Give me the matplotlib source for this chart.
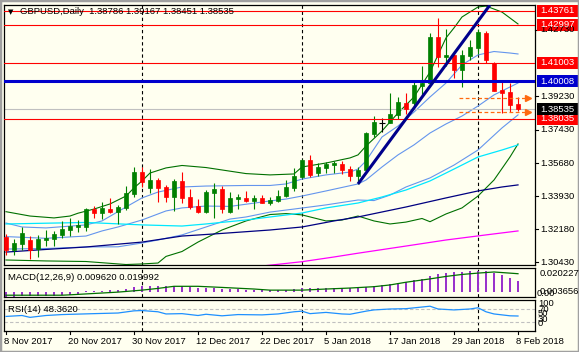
import matplotlib
matplotlib.use('Agg')
import matplotlib.pyplot as plt
from matplotlib.patches import Rectangle
from matplotlib.transforms import blended_transform_factory as blend
import numpy as np

plt.rcParams['font.family'] = ['Liberation Sans', 'DejaVu Sans']

# ---------------- data ----------------
opens = [1.3178, 1.3107, 1.3139, 1.3160, 1.3111, 1.3160, 1.3167, 1.3187, 1.3213, 1.3229,
         1.3231, 1.3324, 1.3305, 1.3326, 1.3308, 1.3331, 1.3402, 1.3520, 1.3437, 1.3478,
         1.3439, 1.3390, 1.3473, 1.3386, 1.3340, 1.3310, 1.3411, 1.3429, 1.3308, 1.3379,
         1.3384, 1.3368, 1.3384, 1.3358, 1.3367, 1.3393, 1.3436, 1.3496, 1.3584, 1.3514,
         1.3543, 1.3559, 1.3561, 1.3535, 1.3501, 1.3531, 1.3720, 1.3782, 1.3782, 1.3823,
         1.3885, 1.3888, 1.3976, 1.3991, 1.4238, 1.4132, 1.4141, 1.4061, 1.4135, 1.4176,
         1.4259, 1.4097, 1.3955, 1.3943, 1.38786]
highs = [1.3190, 1.3164, 1.3231, 1.3183, 1.3187, 1.3213, 1.3208, 1.3261, 1.3277, 1.3266,
         1.3331, 1.3340, 1.3363, 1.3381, 1.3346, 1.3446, 1.3549, 1.3549, 1.3536, 1.3488,
         1.3452, 1.3483, 1.3522, 1.3429, 1.3376, 1.3425, 1.3461, 1.3446, 1.3413, 1.3404,
         1.3420, 1.3399, 1.3397, 1.3386, 1.3425, 1.3478, 1.3540, 1.3589, 1.3609, 1.3567,
         1.3575, 1.3579, 1.3579, 1.3554, 1.3549, 1.3733, 1.3817, 1.3805, 1.3938, 1.3920,
         1.3938, 1.4008, 1.4082, 1.4259, 1.4338, 1.4277, 1.4158, 1.4167, 1.4220, 1.4277,
         1.4269, 1.4103, 1.3999, 1.3991, 1.39167]
lows = [1.3080, 1.3080, 1.3107, 1.3059, 1.3068, 1.3128, 1.3128, 1.3169, 1.3181, 1.3204,
        1.3209, 1.3277, 1.3271, 1.3302, 1.3245, 1.3319, 1.3390, 1.3443, 1.3411, 1.3363,
        1.3363, 1.3315, 1.3355, 1.3324, 1.3302, 1.3305, 1.3278, 1.3302, 1.3302, 1.3323,
        1.3362, 1.3326, 1.3355, 1.3344, 1.3361, 1.3386, 1.3421, 1.3490, 1.3492, 1.3499,
        1.3514, 1.3514, 1.3508, 1.3474, 1.3457, 1.3528, 1.3708, 1.3734, 1.3779, 1.3801,
        1.3828, 1.3870, 1.3920, 1.3982, 1.4079, 1.4082, 1.4017, 1.3973, 1.4114, 1.4146,
        1.4100, 1.3950, 1.3832, 1.3840, 1.38451]
closes = [1.3107, 1.3146, 1.3199, 1.3107, 1.3167, 1.3172, 1.3192, 1.3220, 1.3236, 1.3241,
          1.3323, 1.3305, 1.3330, 1.3310, 1.3335, 1.3408, 1.3519, 1.3466, 1.3478, 1.3437,
          1.3386, 1.3474, 1.3384, 1.3333, 1.3310, 1.3414, 1.3429, 1.3326, 1.3384, 1.3386,
          1.3368, 1.3384, 1.3358, 1.3372, 1.3393, 1.3443, 1.3501, 1.3584, 1.3505, 1.3547,
          1.3563, 1.3567, 1.3533, 1.3501, 1.3533, 1.3729, 1.3785, 1.3782, 1.3828, 1.3890,
          1.3854, 1.3982, 1.3992, 1.4238, 1.4132, 1.4141, 1.4061, 1.4141, 1.4185, 1.4261,
          1.4114, 1.3951, 1.3941, 1.3876, 1.38535]

date_labels = ["8 Nov 2017", "20 Nov 2017", "30 Nov 2017", "12 Dec 2017", "22 Dec 2017",
               "5 Jan 2018", "17 Jan 2018", "29 Jan 2018", "8 Feb 2018"]
date_label_bars = [0, 8, 16, 24, 32, 40, 48, 56, 64]
month_sep_bars = [17, 37, 59]

bb_up_x = [0, 3, 6, 8, 9, 11, 13, 15, 16, 17, 18, 20, 22, 25, 30, 33, 36, 37, 40, 43, 44, 45,
           47, 49, 51, 53, 55, 56, 57, 59, 60, 62, 64]
bb_up_y = [1.3310, 1.3287, 1.3277, 1.3287, 1.3302, 1.3324, 1.3351, 1.3393, 1.3436, 1.3473,
           1.3515, 1.3542, 1.3555, 1.3544, 1.3512, 1.3505, 1.3510, 1.3547, 1.3568, 1.3595,
           1.3611, 1.3658, 1.3738, 1.3833, 1.3918, 1.4050, 1.4231, 1.4284, 1.4342, 1.4395,
           1.4400, 1.4368, 1.4305]
bb_lo_x = [0, 5, 10, 15, 17, 19, 20, 22, 24, 27, 30, 33, 35, 37, 40, 42, 44, 46, 48, 50, 52,
           53, 55, 57, 59, 61, 63, 64]
bb_lo_y = [1.3054, 1.3049, 1.3046, 1.3030, 1.3033, 1.3038, 1.3073, 1.3099, 1.3149, 1.3213,
           1.3261, 1.3295, 1.3300, 1.3293, 1.3261, 1.3266, 1.3287, 1.3261, 1.3245, 1.3255,
           1.3274, 1.3257, 1.3298, 1.3330, 1.3393, 1.3478, 1.3600, 1.3669]
ma1_x = [0, 2, 5, 10, 12, 15, 17, 19, 22, 25, 30, 33, 35, 37, 40, 43, 44, 45, 47, 49, 51, 53,
         55, 57, 59, 61, 63, 64]
ma1_y = [1.3250, 1.3229, 1.3224, 1.3240, 1.3261, 1.3335, 1.3383, 1.3414, 1.3441, 1.3446,
         1.3449, 1.3449, 1.3457, 1.3483, 1.3505, 1.3520, 1.3536, 1.3579, 1.3706, 1.3764,
         1.3838, 1.3918, 1.3992, 1.4088, 1.4141, 1.4159, 1.4151, 1.4146]
ma2_x = [0, 5, 10, 12, 14, 17, 20, 22, 25, 28, 33, 35, 37, 40, 44, 45, 47, 49, 51, 53, 55, 57,
         59, 61, 63, 64]
ma2_y = [1.3178, 1.3169, 1.3181, 1.3208, 1.3229, 1.3266, 1.3314, 1.3330, 1.3340, 1.3338,
         1.3367, 1.3377, 1.3393, 1.3420, 1.3457, 1.3478, 1.3547, 1.3611, 1.3664, 1.3727,
         1.3775, 1.3817, 1.3870, 1.3929, 1.3971, 1.3992]
ma3_x = [0, 5, 10, 14, 17, 19, 22, 25, 28, 30, 33, 36, 40, 44, 46, 48, 50, 53, 56, 59, 62, 64]
ma3_y = [1.3112, 1.3115, 1.3123, 1.3124, 1.3144, 1.3160, 1.3187, 1.3229, 1.3271, 1.3282,
         1.3308, 1.3324, 1.3346, 1.3372, 1.3369, 1.3398, 1.3441, 1.3489, 1.3557, 1.3637,
         1.3754, 1.3823]
cyan_x = [0, 10, 17, 22, 25, 30, 33, 37, 40, 44, 47, 50, 53, 56, 59, 62, 64]
cyan_y = [1.3245, 1.3253, 1.3240, 1.3234, 1.3245, 1.3266, 1.3282, 1.3303, 1.3330, 1.3356,
          1.3388, 1.3425, 1.3473, 1.3536, 1.3600, 1.3637, 1.3664]
navy_x = [0, 5, 10, 17, 22, 26, 33, 37, 41, 44, 50, 55, 59, 62, 64]
navy_y = [1.3096, 1.3110, 1.3123, 1.3149, 1.3181, 1.3192, 1.3213, 1.3229, 1.3261, 1.3282,
          1.3335, 1.3383, 1.3420, 1.3441, 1.3452]
mag_x = [32, 37, 41, 44, 50, 55, 60, 64]
mag_y = [1.3022, 1.3045, 1.3070, 1.3090, 1.3128, 1.3160, 1.3187, 1.3208]

red_levels = [1.43761, 1.42997, 1.41003, 1.38035]
blue_level = 1.40008
last_close = 1.38535
orange_levels = [1.3915, 1.3840]
orange_span = [56.6, 65.3]
trend_x = [44, 60.5]
trend_y = [1.3457, 1.4406]
price_ticks = [1.42730, 1.39230, 1.37430, 1.35680, 1.33930, 1.32180, 1.30430]

macd_hist = [-0.0036, -0.0033, -0.0032, -0.0031, -0.0029, -0.0027, -0.0025, -0.0022, -0.0017, -0.0010,
             0.0008, 0.0011, 0.0014, 0.0017, 0.0022, 0.0030, 0.0041, 0.0050, 0.0055, 0.0055,
             0.0055, 0.0052, 0.0050, 0.0044, 0.0039, 0.0036, 0.0033, 0.0030, 0.0028, 0.0025,
             0.0022, 0.0019, 0.0017, 0.0017, 0.0019, 0.0022, 0.0028, 0.0033, 0.0036, 0.0036,
             0.0036, 0.0036, 0.0036, 0.0033, 0.0033, 0.0044, 0.0052, 0.0061, 0.0069, 0.0080,
             0.0088, 0.0102, 0.0113, 0.0133, 0.0146, 0.0157, 0.0163, 0.0168, 0.0171, 0.0174,
             0.0171, 0.0157, 0.0138, 0.0116, 0.00962]
sig_x = [0, 7, 8, 11, 14, 17, 19, 21, 24, 27, 31, 33, 37, 40, 43, 46, 48, 50, 53, 55, 57, 59, 61, 64]
sig_y = [-0.0022, -0.0022, -0.0019, -0.0008, 0.0003, 0.0019, 0.0033, 0.0050, 0.0050, 0.0041,
         0.0028, 0.0019, 0.0019, 0.0028, 0.0036, 0.0047, 0.0061, 0.0083, 0.0110, 0.0130,
         0.0146, 0.0157, 0.0166, 0.0152]
macd_range = [-0.003656, 0.020227]

rsi_x = [0, 2, 3, 5, 7, 11, 14, 16, 17, 19, 20, 22, 24, 25, 27, 29, 32, 34, 36, 37, 38, 40, 42,
         43, 45, 46, 48, 50, 53, 54, 56, 58, 59, 60, 61, 62, 63, 64]
rsi_y = [47, 50, 44, 50, 53, 56, 58, 65, 66, 62, 55, 56, 50, 54, 49, 53, 52, 55, 62, 64, 56, 60,
         55, 54, 64, 68, 71, 72, 80, 71, 68, 71, 75, 62, 55, 52, 49, 48.362]
rsi_levels = [70, 30]

# ---------------- layout ----------------
W, H = 579, 352
BG = '#fffff0'
FS = 6.8
fig = plt.figure(figsize=(W / 100, H / 100), dpi=100)
fig.patch.set_facecolor(BG)


def rect(x0, y0, x1, y1):
    return [x0 / W, 1 - y1 / H, (x1 - x0) / W, (y1 - y0) / H]


def fx(px):
    return px / W


def fy(py):
    return 1 - py / H


PX0, STEP = 6, 8
XL, XR = 4, 535
xlim = ((XL - PX0) / STEP, (XR - PX0) / STEP)

ax = fig.add_axes(rect(XL, 5, XR, 265))
axm = fig.add_axes(rect(XL, 267.5, XR, 297))
axr = fig.add_axes(rect(XL, 300, XR, 331))
for a in (ax, axm, axr):
    a.set_facecolor(BG)
    a.set_xlim(*xlim)
    a.set_xticks([])
    a.set_yticks([])
    for s in a.spines.values():
        s.set_color('black')
        s.set_linewidth(0.9)
    for b in month_sep_bars:
        a.axvline(b, color='black', lw=0.8, ls=(0, (3, 2.5)), zorder=1)

ax.set_ylim(1.30275, 1.44055)
axm.set_ylim(*macd_range)
axr.set_ylim(0, 100)

idx = np.arange(len(closes))
o, h, l, c = (np.array(v) for v in (opens, highs, lows, closes))

# indicator lines
ax.plot(bb_up_x, bb_up_y, color='#007000', lw=0.8, zorder=2)
ax.plot(bb_lo_x, bb_lo_y, color='#007000', lw=0.8, zorder=2)
for xs, ys in ((ma1_x, ma1_y), (ma2_x, ma2_y), (ma3_x, ma3_y)):
    ax.plot(xs, ys, color='#6495ed', lw=0.8, zorder=2)
ax.plot(cyan_x, cyan_y, color='#00e8ff', lw=0.9, zorder=2)
ax.plot(navy_x, navy_y, color='#000080', lw=0.9, zorder=2)
ax.plot(mag_x, mag_y, color='#ff00ff', lw=0.9, zorder=2)

# horizontal objects
ax.axhline(last_close, color='#c0c0c0', lw=0.8, zorder=2)
for lv in red_levels:
    ax.axhline(lv, color='#ff0000', lw=0.8, zorder=4)
ax.axhline(blue_level, color='#0000cd', lw=2.2, zorder=4)
for lv in orange_levels:
    ax.plot(orange_span, [lv, lv], color='#ff6a10', lw=0.9, ls=(0, (3, 2)), zorder=4)
    ax.plot([orange_span[1]], [lv], marker='>', color='#ff6a10', ms=4.5, zorder=4,
            clip_on=False)

# candles
up = c > o + 1e-7
dn = c < o - 1e-7
cols = np.where(up, '#008000', np.where(dn, '#ff0000', '#000000'))
ax.vlines(idx, l, h, colors=cols, lw=0.8, zorder=3)
ax.bar(idx, np.abs(c - o), bottom=np.minimum(o, c), width=0.55, color=cols,
       edgecolor=cols, linewidth=0.5, zorder=3)
dj = ~(up | dn)
ax.hlines(c[dj], idx[dj] - 0.35, idx[dj] + 0.35, colors='black', lw=0.8, zorder=3)

# trendline
ax.plot(trend_x, trend_y, color='#00008b', lw=2.2, zorder=5, solid_capstyle='butt')

# price axis labels
tr = blend(fig.transFigure, ax.transData)
ppx = (ax.get_ylim()[1] - ax.get_ylim()[0]) / 260.0
for t in price_ticks:
    ax.plot([fx(XR), fx(XR + 3)], [t, t], color='black', lw=0.8, transform=tr, clip_on=False)
    fig.text(fx(540), t, f"{t:.5f}", fontsize=FS, va='center', ha='left', color='black',
             transform=tr)


def box(val, fc):
    ax.add_patch(Rectangle((fx(537), val - 6 * ppx), fx(42), 12 * ppx, transform=tr,
                           facecolor=fc, edgecolor='none', clip_on=False, zorder=6))
    fig.text(fx(540), val, f"{val:.5f}", fontsize=FS, va='center', ha='left',
             color='white', transform=tr, zorder=7)


for lv in red_levels:
    box(lv, '#ff0000')
box(blue_level, '#0000cd')
box(last_close, '#000000')

# MACD panel
axm.bar(idx, macd_hist, width=0.22, color='#9932cc', linewidth=0, zorder=2)
axm.plot(sig_x, sig_y, color='#007000', lw=0.9, zorder=3)
fig.text(fx(8), fy(277), "MACD(12,26,9) 0.009620 0.019992", fontsize=FS, va='center')
fig.text(fx(540), fy(273), "0.020227", fontsize=FS, va='center')
fig.text(fx(540), fy(291.5), "0.003656", fontsize=FS, va='center')
fig.text(fx(537), fy(293.5), "0.00", fontsize=FS, va='center')

# RSI panel
for lv in rsi_levels:
    axr.axhline(lv, color='#c0c0c0', lw=0.8, ls=(0, (3, 2)), zorder=1)
axr.plot(rsi_x, rsi_y, color='#1e90ff', lw=0.9, zorder=3)
fig.text(fx(8), fy(309), "RSI(14) 48.3620", fontsize=FS, va='center')
for txt, py in (("100", 304), ("70", 309), ("50", 314), ("30", 319.5), ("0", 324)):
    fig.text(fx(538), fy(py), txt, fontsize=FS, va='center')

# header
fig.text(fx(8), fy(12), "\u25bc", fontsize=5, va='center', family='DejaVu Sans')
fig.text(fx(20), fy(12), "GBPUSD,Daily  1.38786 1.39167 1.38451 1.38535", fontsize=FS,
         va='center')

# date axis
for b, lab in zip(date_label_bars, date_labels):
    px = PX0 + STEP * b
    fig.add_artist(plt.Line2D([fx(px), fx(px)], [fy(331), fy(334)], color='black', lw=0.8))
    fig.text(fx(px - 2), fy(341), lab, fontsize=FS, va='center', ha='left')

# window frame
fig.add_artist(Rectangle((0, 0), 1, 1, transform=fig.transFigure, fill=False,
                         edgecolor='#a0a0a0', linewidth=2.5))

fig.savefig('out.png', dpi=100, facecolor=BG)
